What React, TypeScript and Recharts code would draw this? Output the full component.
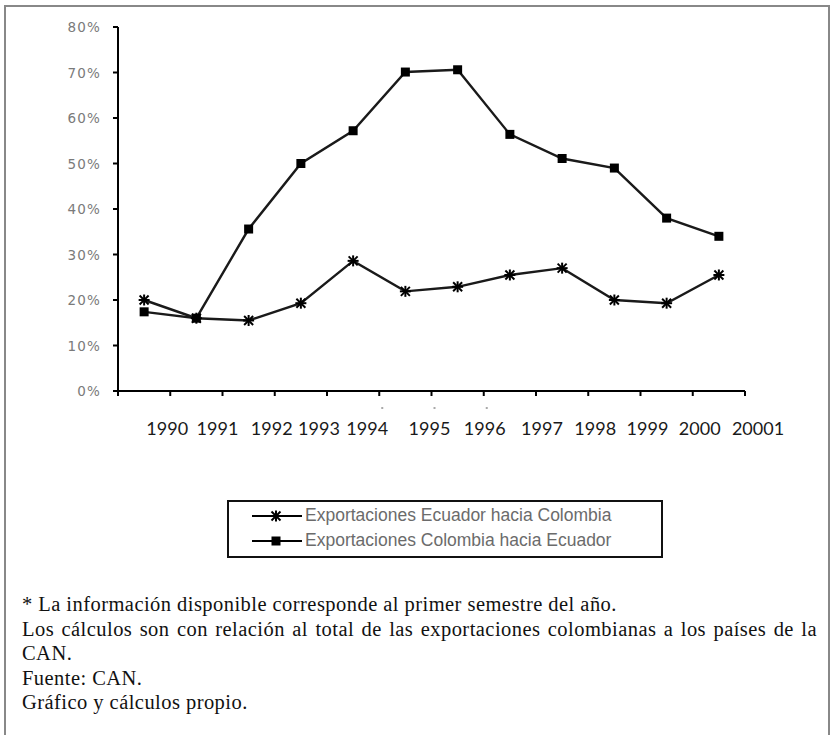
import React from 'react';
import { Line, LineChart, XAxis, YAxis } from 'recharts';

// años (categorías) y etiquetas tal como aparecen en el gráfico
const years = [1990, 1991, 1992, 1993, 1994, 1995, 1996, 1997, 1998, 1999, 2000, 2001];
const yearLabels = ['1990', '1991', '1992', '1993', '1994', '1995', '1996', '1997', '1998', '1999', '2000', '20001'];

// participación en el total de exportaciones a la CAN
const ecuadorToColombia = [0.2, 0.16, 0.155, 0.193, 0.286, 0.219, 0.229, 0.255, 0.27, 0.2, 0.193, 0.255];
const colombiaToEcuador = [0.174, 0.16, 0.356, 0.5, 0.572, 0.701, 0.706, 0.564, 0.511, 0.49, 0.38, 0.34];

const yTicks = [0, 0.1, 0.2, 0.3, 0.4, 0.5, 0.6, 0.7, 0.8];

const notes = [
  '* La información disponible corresponde al primer semestre del año.',
  'Los cálculos son con relación al total de las exportaciones colombianas a los países de la CAN.',
  'Fuente: CAN.',
  'Gráfico y cálculos propio.',
];

const data = years.map((year, i) => ({
  year,
  ecuador: ecuadorToColombia[i],
  colombia: colombiaToEcuador[i],
}));

const PLOT_LEFT = 118;
const PLOT_RIGHT = 745;
const HALF = (PLOT_RIGHT - PLOT_LEFT) / years.length / 2;
// the year labels in the original are not centred exactly on the ticks
const labelShift = [-3, -5, -3, -8, -12, -2, 1, 6, 7, 7, 7, 13];

const StarDot = ({ cx, cy }: any) => {
  if (cx == null || cy == null) return null;
  const r = 4.5;
  return (
    <g stroke="#000" strokeWidth={2}>
      <line x1={cx - r} y1={cy - r} x2={cx + r} y2={cy + r} />
      <line x1={cx - r} y1={cy + r} x2={cx + r} y2={cy - r} />
      <line x1={cx} y1={cy - r - 1} x2={cx} y2={cy + r + 1} />
      <line x1={cx - r - 1} y1={cy} x2={cx + r + 1} y2={cy} />
    </g>
  );
};

const SquareDot = ({ cx, cy }: any) => {
  if (cx == null || cy == null) return null;
  return <rect x={cx - 4.5} y={cy - 4.5} width={9} height={9} fill="#000" />;
};

const XTick = ({ x, y, index }: any) => {
  const bx = x + HALF;
  return (
    <g>
      {index === 0 && <line x1={x - HALF} y1={y} x2={x - HALF} y2={y + 5} stroke="#000" strokeWidth={2} />}
      <line x1={bx} y1={y} x2={bx} y2={y + 5} stroke="#000" strokeWidth={2} />
      {index >= 4 && index <= 6 && (
        <line x1={bx + 2} y1={y + 17} x2={bx + 4} y2={y + 17} stroke="#555" strokeWidth={1} />
      )}
      <text
        x={bx + labelShift[index]}
        y={y + 44}
        textAnchor="middle"
        fontFamily="Lato, sans-serif"
        fontSize={18}
        fill="#1a1a1a"
      >
        {yearLabels[index]}
      </text>
    </g>
  );
};

const YTick = ({ x, y, payload }: any) => (
  <text
    x={x}
    y={y}
    dy={5}
    textAnchor="end"
    fontFamily="'DejaVu Sans', sans-serif"
    fontSize={13.5}
    fill="#7a7a7a"
    style={{ letterSpacing: '1.2px' }}
  >
    {`${Math.round(payload.value * 100)}%`}
  </text>
);

const LegendRow = ({ label, marker }: { label: string; marker: 'star' | 'square' }) => (
  <div style={{ display: 'flex', alignItems: 'center', height: 25 }}>
    <svg width={78} height={20} style={{ marginLeft: 21 }}>
      <line x1={2} y1={10} x2={52} y2={10} stroke="#000" strokeWidth={2} />
      {marker === 'star' ? <StarDot cx={26} cy={10} /> : <SquareDot cx={26} cy={10} />}
    </svg>
    <span
      style={{
        marginLeft: -23,
        fontFamily: "'Liberation Sans', Arial, sans-serif",
        fontSize: 17.5,
        color: '#6b6b6b',
        whiteSpace: 'nowrap',
      }}
    >
      {label}
    </span>
  </div>
);

const App = () => {
  return (
    <div
      style={{
        position: 'absolute',
        left: 0,
        top: 0,
        width: 833,
        height: 735,
        overflow: 'hidden',
        background: '#fff',
      }}
    >
      <div
        style={{
          position: 'absolute',
          left: 4,
          top: 5,
          width: 826,
          height: 800,
          border: '2px solid #888',
          boxSizing: 'border-box',
        }}
      />
      <div style={{ position: 'absolute', left: 0, top: 0 }}>
        <LineChart width={833} height={460} data={data} margin={{ top: 27, right: 88, left: 0, bottom: 0 }}>
          <XAxis
            dataKey="year"
            height={69}
            padding={{ left: HALF, right: HALF }}
            interval={0}
            tickLine={false}
            tickSize={0}
            tickMargin={0}
            axisLine={{ stroke: '#000', strokeWidth: 2 }}
            tick={<XTick />}
          />
          <YAxis
            width={118}
            domain={[0, 0.8]}
            ticks={yTicks}
            interval={0}
            tickSize={5}
            tickMargin={12}
            axisLine={{ stroke: '#000', strokeWidth: 2 }}
            tickLine={{ stroke: '#000', strokeWidth: 2 }}
            tick={<YTick />}
          />
          <Line
            dataKey="ecuador"
            stroke="#1a1a1a"
            strokeWidth={2.4}
            dot={<StarDot />}
            activeDot={false}
            isAnimationActive={false}
          />
          <Line
            dataKey="colombia"
            stroke="#1a1a1a"
            strokeWidth={2.4}
            dot={<SquareDot />}
            activeDot={false}
            isAnimationActive={false}
          />
        </LineChart>
      </div>
      <div
        style={{
          position: 'absolute',
          left: 227,
          top: 500,
          width: 436,
          height: 58,
          border: '2px solid #111',
          boxSizing: 'border-box',
          paddingTop: 1,
        }}
      >
        <LegendRow label="Exportaciones Ecuador hacia Colombia" marker="star" />
        <LegendRow label="Exportaciones Colombia hacia Ecuador" marker="square" />
      </div>
      <div
        style={{
          position: 'absolute',
          left: 22,
          top: 592,
          width: 795,
          fontFamily: "'Liberation Serif', 'Times New Roman', serif",
          fontSize: 20.5,
          letterSpacing: '0.45px',
          lineHeight: '24.5px',
          color: '#111',
          textAlign: 'justify',
        }}
      >
        {notes.map((n) => (
          <div key={n}>{n}</div>
        ))}
      </div>
    </div>
  );
};

export default App;
